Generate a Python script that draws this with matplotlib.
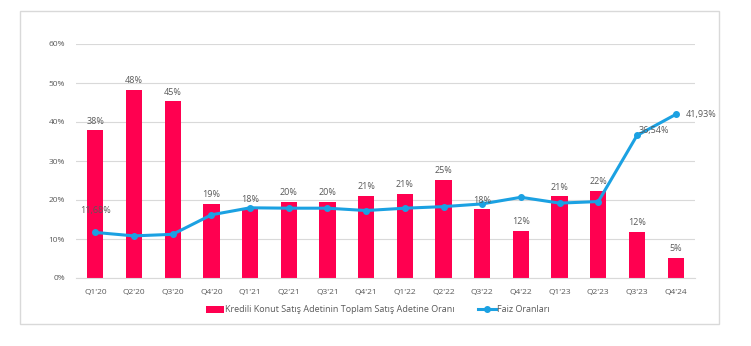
import matplotlib.pyplot as plt
import numpy as np
from matplotlib.patches import Rectangle

# data
quarters = ["Q1'20", "Q2'20", "Q3'20", "Q4'20", "Q1'21", "Q2'21", "Q3'21", "Q4'21",
            "Q1'22", "Q2'22", "Q3'22", "Q4'22", "Q1'23", "Q2'23", "Q3'23", "Q4'24"]
kredili_oran = [38, 48, 45, 19, 18, 20, 20, 21, 21, 25, 18, 12, 21, 22, 12, 5]
bar_heights = [37.9, 48.2, 45.3, 19.1, 17.8, 19.6, 19.6, 21.0, 21.5, 25.1, 17.6, 12.1, 20.9, 22.3, 11.8, 5.2]
faiz = [11.68, 10.8, 11.2, 16.2, 18.0, 17.9, 17.9, 17.3, 17.9, 18.3, 19.0, 20.7, 19.2, 19.6, 36.54, 41.93]
faiz_labels = {0: "11,68%", 14: "36,54%", 15: "41,93%"}

plt.rcParams['font.family'] = ['Open Sans', 'DejaVu Sans']
txt = "#595959"
red = "#FF0050"
blue = "#1BA1E2"

fig = plt.figure(figsize=(7.51, 3.46), dpi=100)
fig.patches.append(Rectangle((20/751, 1-324/346), 699/751, 313/346, transform=fig.transFigure,
                             fill=False, edgecolor="#D9D9D9", linewidth=1))
ax = fig.add_axes([76/751, 1-278/346, 619/751, 234/346])

x = np.arange(len(quarters))
bars = ax.bar(x, bar_heights, width=0.42, color=red, zorder=2,
              label="Kredili Konut Satış Adetinin Toplam Satış Adetine Oranı")
line, = ax.plot(x, faiz, color=blue, linewidth=2.2, marker="o", markersize=4, zorder=3,
                label="Faiz Oranları")

for i, v in enumerate(kredili_oran):
    ax.text(x[i], bar_heights[i] + 1.2, f"{v}%", ha="center", va="bottom", fontsize=6.5, color=txt)

ax.text(x[0], faiz[0] + 4.6, faiz_labels[0], ha="center", va="bottom", fontsize=6.5, color=txt)
ax.text(x[14] + 0.05, faiz[14] + 0.2, faiz_labels[14], ha="left", va="bottom", fontsize=6.5, color=txt)
ax.text(x[15] + 0.25, faiz[15], faiz_labels[15], ha="left", va="center", fontsize=6.5, color=txt)

ax.set_ylim(0, 60)
ax.set_xlim(-0.5, len(quarters) - 0.5)
ax.set_yticks(range(0, 61, 10))
ax.set_yticklabels([f"{t}%" for t in range(0, 61, 10)])
ax.set_xticks(x)
ax.set_xticklabels(quarters)
ax.tick_params(axis="both", length=0, labelsize=6, colors=txt, pad=8)
ax.grid(axis="y", color="#D9D9D9", linewidth=0.8, zorder=0)
for s in ["top", "right", "left"]:
    ax.spines[s].set_visible(False)
ax.spines["bottom"].set_color("#D9D9D9")

ax.legend(handles=[bars, line], loc="center", bbox_to_anchor=(378/751, 1-310/346),
          bbox_transform=fig.transFigure, ncol=2, frameon=False, fontsize=6.5, labelcolor=txt,
          handlelength=2.0, columnspacing=2.6, handletextpad=0.1)

fig.savefig("out.png", dpi=100)
